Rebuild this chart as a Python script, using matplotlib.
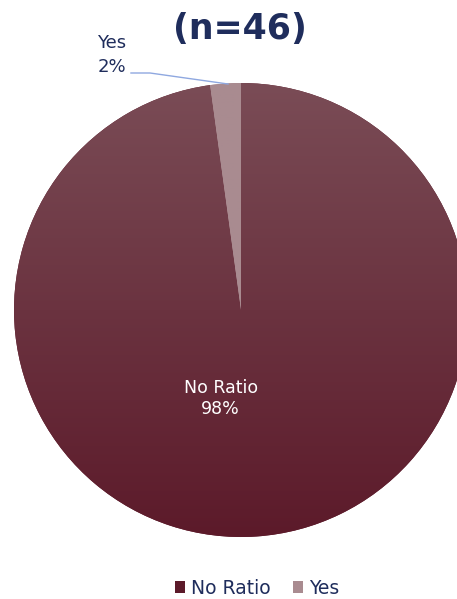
import numpy as np
import matplotlib.pyplot as plt
import matplotlib
from matplotlib.patches import Patch
from matplotlib.colors import LinearSegmentedColormap

matplotlib.rcParams['font.family'] = 'DejaVu Sans'

labels = ['No Ratio', 'Yes']
counts = [45, 1]
pct_text = ['98%', '2%']
title = '(n=46)'

navy = '#1f2d5c'
top_cols = ['#7a4c56', '#a98b90']
bot_cols = ['#5c1a2a', '#a98b90']

fig = plt.figure(figsize=(4.57, 5.99), dpi=100)
ax = fig.add_axes([14/457, 62/599, 454/457, 454/599])

wedges, _ = ax.pie(counts, startangle=90, counterclock=False, radius=1,
                   colors=bot_cols, wedgeprops=dict(linewidth=0))

# vertical gradient fill for each wedge
for w, c1, c2 in zip(wedges, top_cols, bot_cols):
    cmap = LinearSegmentedColormap.from_list('g', [c2, c1])
    grad = np.linspace(0, 1, 256).reshape(-1, 1)
    im = ax.imshow(grad, cmap=cmap, extent=[-1, 1, -1, 1], origin='lower',
                   aspect='auto', zorder=w.get_zorder() + 0.1)
    im.set_clip_path(w)

ax.set_xlim(-1, 1)
ax.set_ylim(-1, 1)
ax.set_aspect('equal')
ax.axis('off')

# inside label
ax.text(-0.09, -0.39, labels[0] + '\n' + pct_text[0], color='white',
        ha='center', va='center', fontsize=12.5, linespacing=1.25)

# outside label with leader line
fig.text(112/457, 1 - 55/599, labels[1] + '\n' + pct_text[1], color=navy,
         ha='center', va='center', fontsize=13, linespacing=1.45)
fig.add_artist(plt.Line2D([131/457, 150/457, 228/457],
                          [1 - 73/599, 1 - 73/599, 1 - 84/599],
                          color='#8fa8e0', lw=1))

fig.text(240/457, 1 - 29/599, title, color=navy, ha='center', va='center',
         fontsize=25, fontweight='bold')

handles = [Patch(facecolor=bot_cols[0]), Patch(facecolor=bot_cols[1])]
fig.legend(handles, labels, loc='center', bbox_to_anchor=(257/457, 1 - 588/599),
           ncol=2, frameon=False, fontsize=13.5, labelcolor=navy,
           handlelength=0.55, handleheight=0.55, handletextpad=0.3,
           columnspacing=1.2)

fig.savefig('out.png', dpi=100)
